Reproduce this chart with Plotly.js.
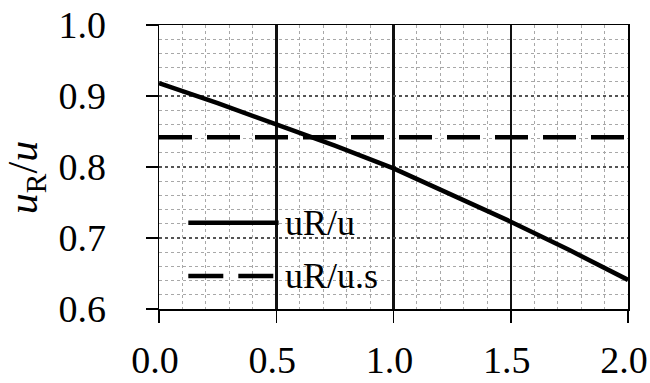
<!DOCTYPE html>
<html>
<head>
<meta charset="utf-8">
<script src="https://cdn.plot.ly/plotly-3.0.1.min.js"></script>
<style>html,body{margin:0;padding:0;background:#fff;}#chart{width:650px;height:383px;}</style>
</head>
<body>
<div id="chart"></div>
<script>
// Data
const xValues = [0, 0.25, 0.5, 0.75, 1.0, 1.25, 1.5, 1.75, 2.0];
const uRu = [0.918, 0.890, 0.860, 0.830, 0.798, 0.761, 0.723, 0.683, 0.641];
const uRuS = [0.842, 0.842, 0.842, 0.842, 0.842, 0.842, 0.842, 0.842, 0.842];
const seriesNames = ['uR/u', 'uR/u.s'];
const xTicks = [0, 0.5, 1.0, 1.5, 2.0];
const xTickLabels = ['0.0', '0.5', '1.0', '1.5', '2.0'];
const yTicks = [0.6, 0.7, 0.8, 0.9, 1.0];
const yTickLabels = ['0.6', '0.7', '0.8', '0.9', '1.0'];

// Manual legend (positions in data units)
const legendLineX = [0.125, 0.51];
const legendY = [0.7215, 0.6465];
const legendTextX = 0.53;

const FONT = 'Liberation Serif, Times New Roman, serif';

const traces = [
  {x: xValues, y: uRu, mode: 'lines', name: seriesNames[0],
   line: {color: '#000', width: 4.5}, showlegend: false},
  {x: xValues, y: uRuS, mode: 'lines', name: seriesNames[1],
   line: {color: '#000', width: 4.5, dash: '33px,15px'}, showlegend: false}
];

const shapes = [
  {type: 'line', xref: 'x', yref: 'y', x0: legendLineX[0], x1: legendLineX[1], y0: legendY[0], y1: legendY[0],
   line: {color: '#000', width: 4.5}},
  {type: 'line', xref: 'x', yref: 'y', x0: legendLineX[0], x1: legendLineX[1], y0: legendY[1], y1: legendY[1],
   line: {color: '#000', width: 4.5, dash: '35px,15px'}}
];

const annotations = seriesNames.map((n, i) => ({
  xref: 'x', yref: 'y', x: legendTextX, y: legendY[i], text: n, showarrow: false,
  xanchor: 'left', yanchor: 'middle', font: {family: FONT, size: 36, color: '#000'}
}));

const layout = {
  width: 650, height: 383,
  margin: {l: 159, r: 22, t: 25, b: 74, pad: 0},
  paper_bgcolor: '#fff', plot_bgcolor: '#fff',
  font: {family: FONT, size: 38, color: '#000'},
  xaxis: {
    range: [0, 2.0], tickvals: xTicks, ticktext: xTickLabels,
    showgrid: true, gridcolor: '#111', gridwidth: 2.5,
    minor: {dtick: 0.1, showgrid: true, gridcolor: '#a8a8a8', gridwidth: 1, griddash: 'dot'},
    showline: true, linecolor: '#000', linewidth: 1.5, mirror: true,
    ticks: 'outside', ticklen: 12, tickwidth: 1.5, tickcolor: '#000',
    tickfont: {family: FONT, size: 38, color: '#000'}, ticklabelstandoff: 5,
    ticklabelshift: -4, ticklabeloverflow: 'allow',
    zeroline: false, fixedrange: true
  },
  yaxis: {
    range: [0.6, 1.0], tickvals: yTicks, ticktext: yTickLabels,
    showgrid: true, gridcolor: '#555', gridwidth: 1.5, griddash: 'dot',
    minor: {dtick: 0.02, showgrid: true, gridcolor: '#a8a8a8', gridwidth: 1, griddash: 'dot'},
    showline: true, linecolor: '#000', linewidth: 1.5, mirror: true,
    ticks: 'outside', ticklen: 12, tickwidth: 1.5, tickcolor: '#000',
    tickfont: {family: FONT, size: 38, color: '#000'}, ticklabelstandoff: 32,
    title: {text: '<i>u</i><sub>R</sub>/<i>u</i>&nbsp;&nbsp;', font: {family: FONT, size: 42, color: '#000'}, standoff: 14},
    zeroline: false, fixedrange: true
  },
  shapes: shapes,
  annotations: annotations,
  showlegend: false
};

Plotly.newPlot('chart', traces, layout, {displayModeBar: false, staticPlot: true});
</script>
</body>
</html>
